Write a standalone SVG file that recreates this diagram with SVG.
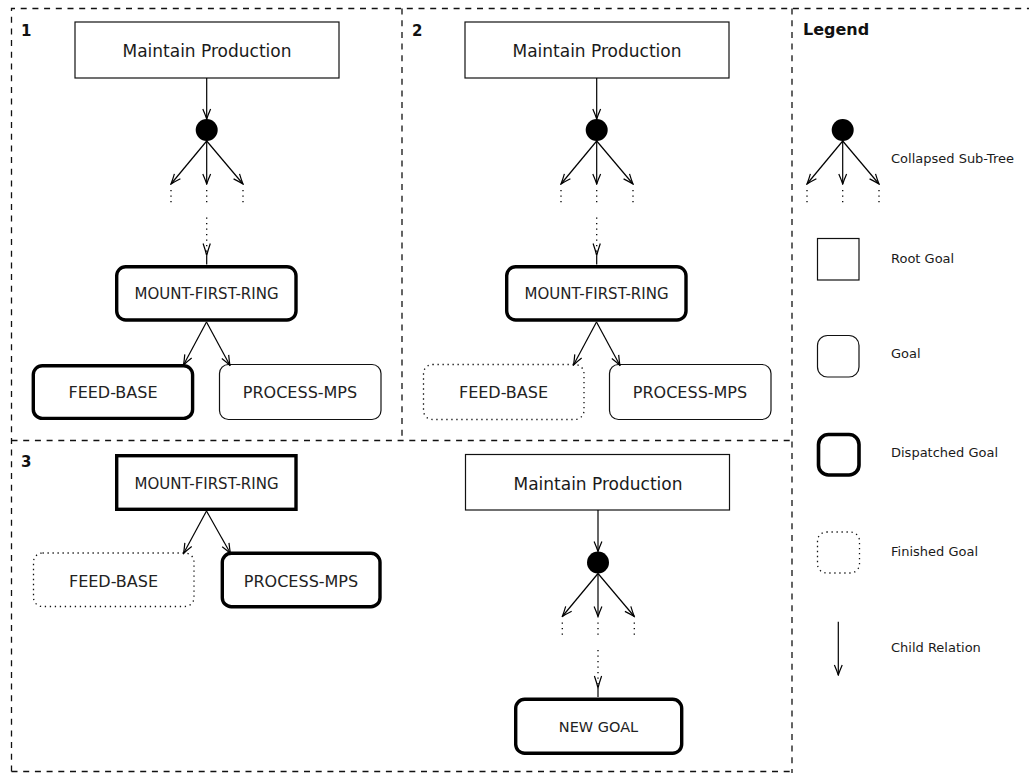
<svg xmlns="http://www.w3.org/2000/svg" width="1029" height="773" viewBox="0 0 1029 773">
  <defs>
    <style>
      .frame { fill: none; stroke: #111; stroke-width: 1.3; stroke-dasharray: 6 5.7; }
      .root { fill: #fff; stroke: #111; stroke-width: 1.2; }
      .goal { fill: #fff; stroke: #111; stroke-width: 1.2; }
      .disp { fill: #fff; stroke: #000; stroke-width: 3.4; }
      .done { fill: #fff; stroke: #111; stroke-width: 1.3; stroke-dasharray: 1.3 3.7; }
      .edge { fill: none; stroke: #000; stroke-width: 1.2; }
      .dots { fill: none; stroke: #000; stroke-width: 1.3; stroke-dasharray: 1.3 4.2; }
      .big { font-family: "DejaVu Sans", "Liberation Sans", sans-serif; font-size: 17px; fill: #1a1a1a; text-anchor: middle; }
      .lbl { font-family: "DejaVu Sans", "Liberation Sans", sans-serif; font-size: 16px; fill: #222; text-anchor: middle; }
      .lbl2 { font-family: "DejaVu Sans", "Liberation Sans", sans-serif; font-size: 15px; fill: #222; text-anchor: middle; }
      .leg { font-family: "DejaVu Sans", "Liberation Sans", sans-serif; font-size: 13px; fill: #1a1a1a; }
      .num { font-family: "DejaVu Sans", "Liberation Sans", sans-serif; font-size: 15px; font-weight: bold; fill: #111; }
    </style>
    <marker id="tip" markerUnits="userSpaceOnUse" viewBox="-11 -5 12 10" markerWidth="12" markerHeight="10" refX="0" refY="0" orient="auto">
      <path d="M-10,-3.9 Q-4,-1.3 0,0 Q-4,1.3 -10,3.9" fill="none" stroke="#000" stroke-width="1.2"/>
    </marker>
    <!-- collapsed sub-tree glyph: dot, three short arrows, and trailing dots -->
    <g id="subtree">
      <circle cx="0" cy="0" r="11" fill="#000"/>
      <path class="edge" d="M0,11 L-35.7,54" marker-end="url(#tip)"/>
      <path class="edge" d="M0,11 L0,54" marker-end="url(#tip)"/>
      <path class="edge" d="M0,11 L36.3,54" marker-end="url(#tip)"/>
      <path class="dots" d="M-35.7,60 L-35.7,73"/>
      <path class="dots" d="M0,60 L0,73"/>
      <path class="dots" d="M36.3,60 L36.3,73"/>
    </g>
    <!-- dotted descent ending in an arrow head, with a short stem below -->
    <g id="descent">
      <path class="dots" d="M0,0 L0,36"/>
      <path d="M-3.6,26 Q-1.2,33 0,38 Q1.2,33 3.6,26" fill="none" stroke="#000" stroke-width="1.2"/>
      <path class="edge" d="M0,38 L0,47"/>
    </g>
  </defs>

  <rect width="1029" height="773" fill="#fff"/>

  <!-- panel frames -->
  <g id="frames">
    <path class="frame" d="M11.5,771.5 L11.5,8.5 L1029,8.5"/>
    <path class="frame" d="M11.5,771.5 L792,771.5"/>
    <path class="frame" d="M792,8.5 L792,773"/>
    <path class="frame" d="M402,8.5 L402,440.5"/>
    <path class="frame" d="M11.5,440.5 L792,440.5"/>
  </g>

  <!-- panel numbers -->
  <g id="panel-labels">
    <text class="num" x="21" y="36">1</text>
    <text class="num" x="412" y="36">2</text>
    <text class="num" x="21" y="467">3</text>
    <text class="num" x="803" y="35" style="font-size:16px">Legend</text>
  </g>

  <!-- ===== Panel 1 ===== -->
  <g id="p1-root">
    <rect class="root" x="75" y="22" width="264" height="56"/>
    <text class="big" x="207" y="57">Maintain Production</text>
  </g>
  <g id="p1-collapsed"><use href="#subtree" x="206.7" y="130"/></g>
  <g id="p1-mount">
    <rect class="disp" x="116.7" y="266.7" width="179.3" height="53.3" rx="9"/>
    <text class="lbl2" x="206.5" y="299">MOUNT-FIRST-RING</text>
  </g>
  <g id="p1-feed">
    <rect class="disp" x="33.3" y="365.7" width="159.3" height="52.7" rx="9"/>
    <text class="lbl" x="113" y="398.3">FEED-BASE</text>
  </g>
  <g id="p1-process">
    <rect class="goal" x="219.5" y="364.5" width="161.5" height="55" rx="9"/>
    <text class="lbl" x="300" y="398.3">PROCESS-MPS</text>
  </g>

  <!-- ===== Panel 2 ===== -->
  <g id="p2-root">
    <rect class="root" x="465" y="22" width="264" height="56"/>
    <text class="big" x="597" y="57">Maintain Production</text>
  </g>
  <g id="p2-collapsed"><use href="#subtree" x="596.7" y="130"/></g>
  <g id="p2-mount">
    <rect class="disp" x="506.7" y="266.7" width="179.3" height="53.3" rx="9"/>
    <text class="lbl2" x="596.5" y="299.3">MOUNT-FIRST-RING</text>
  </g>
  <g id="p2-feed">
    <rect class="done" x="423.5" y="364.5" width="160.5" height="55" rx="9"/>
    <text class="lbl" x="503.5" y="398.3">FEED-BASE</text>
  </g>
  <g id="p2-process">
    <rect class="goal" x="609.5" y="364.5" width="161.5" height="55" rx="9"/>
    <text class="lbl" x="690" y="398.3">PROCESS-MPS</text>
  </g>

  <!-- ===== Panel 3 ===== -->
  <g id="p3-mount">
    <rect class="disp" x="116.7" y="455.7" width="179.3" height="53.6"/>
    <text class="lbl2" x="206.5" y="489">MOUNT-FIRST-RING</text>
  </g>
  <g id="p3-feed">
    <rect class="done" x="33.5" y="553" width="160.5" height="53.5" rx="9"/>
    <text class="lbl" x="113.5" y="586.7">FEED-BASE</text>
  </g>
  <g id="p3-process">
    <rect class="disp" x="222.3" y="553.3" width="157.7" height="53.4" rx="9"/>
    <text class="lbl" x="301" y="586.7">PROCESS-MPS</text>
  </g>
  <g id="p3-root">
    <rect class="root" x="465.5" y="454.5" width="264" height="55.5"/>
    <text class="big" x="598" y="489.5">Maintain Production</text>
  </g>
  <g id="p3-collapsed"><use href="#subtree" x="598" y="562.5"/></g>
  <g id="p3-new">
    <rect class="disp" x="515.7" y="699.3" width="166" height="54" rx="9"/>
    <text class="lbl2" x="598.5" y="731.5" style="font-size:14.5px">NEW GOAL</text>
  </g>

  <!-- ===== connectors ===== -->
  <g id="connectors">
    <!-- panel 1 -->
    <path class="edge" d="M206.7,78 L206.7,119" marker-end="url(#tip)"/>
    <use href="#descent" x="206.7" y="217.5"/>
    <path class="edge" d="M206.5,322 L183.5,365" marker-end="url(#tip)"/>
    <path class="edge" d="M206.5,322 L230,365.5" marker-end="url(#tip)"/>
    <!-- panel 2 -->
    <path class="edge" d="M596.7,78 L596.7,119" marker-end="url(#tip)"/>
    <use href="#descent" x="596.7" y="217.5"/>
    <path class="edge" d="M596.5,322 L573.5,365" marker-end="url(#tip)"/>
    <path class="edge" d="M596.5,322 L620,365.5" marker-end="url(#tip)"/>
    <!-- panel 3 -->
    <path class="edge" d="M206.5,511 L183.5,553.5" marker-end="url(#tip)"/>
    <path class="edge" d="M206.5,511 L230.5,553.5" marker-end="url(#tip)"/>
    <path class="edge" d="M598,510 L598,551.5" marker-end="url(#tip)"/>
    <use href="#descent" x="598" y="650"/>
  </g>

  <!-- ===== legend ===== -->
  <g id="legend-collapsed">
    <use href="#subtree" x="842.7" y="130"/>
    <text class="leg" x="891" y="163.3">Collapsed Sub-Tree</text>
  </g>
  <g id="legend-root">
    <rect class="root" x="817.5" y="238.5" width="41.5" height="41.5"/>
    <text class="leg" x="891" y="262.7">Root Goal</text>
  </g>
  <g id="legend-goal">
    <rect class="goal" x="817.5" y="335.5" width="41.5" height="41.5" rx="10"/>
    <text class="leg" x="891" y="358.3">Goal</text>
  </g>
  <g id="legend-dispatched">
    <rect class="disp" x="818.5" y="434.5" width="40.5" height="40.5" rx="10" style="stroke-width:3.6"/>
    <text class="leg" x="891" y="456.7">Dispatched Goal</text>
  </g>
  <g id="legend-finished">
    <rect class="done" x="817.5" y="532" width="42" height="41" rx="9"/>
    <text class="leg" x="891" y="555.7">Finished Goal</text>
  </g>
  <g id="legend-child">
    <path class="edge" d="M838.3,621.7 L838.3,675" marker-end="url(#tip)"/>
    <text class="leg" x="891" y="652.3">Child Relation</text>
  </g>
</svg>
